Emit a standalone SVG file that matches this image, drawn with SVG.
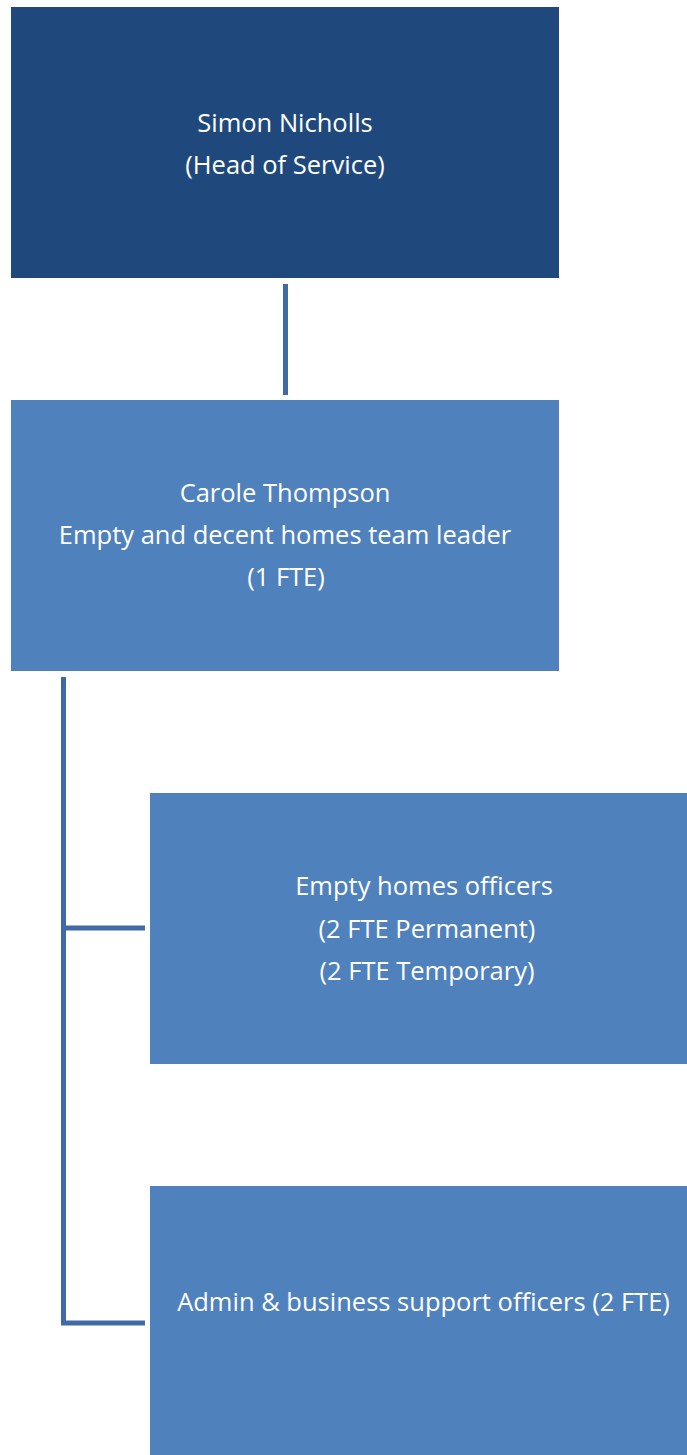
<svg xmlns="http://www.w3.org/2000/svg" width="687" height="1455" viewBox="0 0 687 1455">
<style>
.dark{fill:#1F497D}
.light{fill:#4F81BD}
.t{font-family:"Open Sans","Liberation Sans",sans-serif;font-size:25.5px;fill:#FFFFFF;text-anchor:middle}
.c{stroke:#4169A5;stroke-width:5;fill:none}
</style>
<rect width="687" height="1455" fill="#FFFFFF"/>
<g id="connectors">
<line class="c" x1="285.5" y1="284" x2="285.5" y2="395"/>
<polyline class="c" points="63.5,677 63.5,1323 145,1323"/>
<line class="c" x1="63.5" y1="928" x2="145" y2="928"/>
</g>
<g id="head">
<rect class="dark" x="11" y="7" width="548" height="271"/>
<text class="t" x="285" y="132">Simon Nicholls</text>
<text class="t" x="285" y="174">(Head of Service)</text>
</g>
<g id="teamleader">
<rect class="light" x="11" y="400" width="548" height="271"/>
<text class="t" x="285" y="502">Carole Thompson</text>
<text class="t" x="285" y="544">Empty and decent homes team leader</text>
<text class="t" x="286" y="586">(1 FTE)</text>
</g>
<g id="officers">
<rect class="light" x="150" y="793" width="537" height="271"/>
<text class="t" x="424" y="895">Empty homes officers</text>
<text class="t" x="427" y="938">(2 FTE Permanent)</text>
<text class="t" x="427" y="980">(2 FTE Temporary)</text>
</g>
<g id="admin">
<rect class="light" x="150" y="1186" width="537" height="269"/>
<text class="t" x="423.5" y="1311">Admin &amp; business support officers (2 FTE)</text>
</g>
</svg>
